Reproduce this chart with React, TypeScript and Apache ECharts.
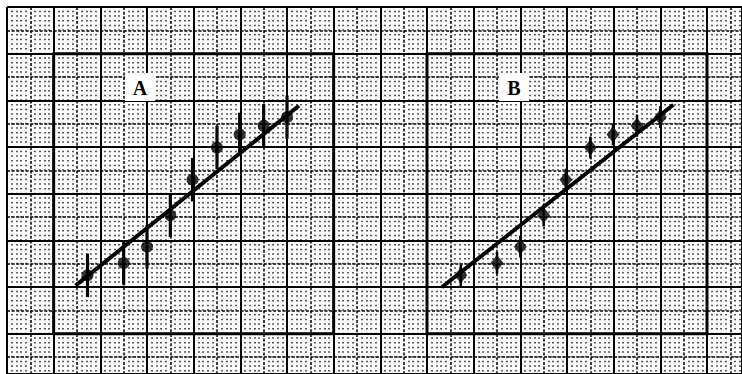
import React, { useEffect, useRef } from "react";
import * as echarts from "echarts";

// Measurements (x in grid cells from the panel's left edge, y in cells from its bottom edge)
const xValues = [1.45, 3, 4, 5, 5.95, 7, 7.97, 9, 10];
const yValues = [2.5, 3.03, 3.73, 5.07, 6.6, 7.98, 8.54, 8.91, 9.28];
const errorA = 0.93;
const errorB = 0.47;
const fitLineA = [
  [0.94, 2.06],
  [10.51, 9.77],
];
const fitLineB = [
  [0.63, 1.99],
  [10.56, 9.81],
];
const panelLabels = ["A", "B"];

const CELL = 280 / 12;
const ORIGIN = 7;
const W = 742;
const H = 374;

function buildOption() {
  const points = xValues.map((x, i) => [x, yValues[i]]);
  const panelLeft = [ORIGIN + 2 * CELL, ORIGIN + 18 * CELL];
  const panelTop = ORIGIN + 2 * CELL;
  const errs = [errorA, errorB];
  const fits = [fitLineA, fitLineB];

  const hidden = {
    axisLine: { show: false },
    axisTick: { show: false },
    axisLabel: { show: false },
  };

  const bgW = W - ORIGIN;
  const bgH = H - ORIGIN;

  const xAxis: any[] = [
    {
      gridIndex: 0,
      type: "value",
      min: 0,
      max: bgW / CELL,
      interval: 1,
      ...hidden,
      z: 0,
      splitLine: {
        show: true,
        lineStyle: { color: "#000", width: 1.5, type: [3, 1.67] },
      },
      minorTick: { show: false, splitNumber: 5 },
      minorSplitLine: {
        show: true,
        lineStyle: {
          color: "#222",
          width: 1.5,
          type: [1.5, CELL / 5 - 1.5],
          dashOffset: 0.75,
        },
      },
    },
    {
      gridIndex: 1,
      type: "value",
      min: 0,
      max: bgW / CELL,
      interval: 2,
      ...hidden,
      z: 1,
      splitLine: { show: true, lineStyle: { color: "#000", width: 2 } },
    },
    { gridIndex: 2, type: "value", min: 0, max: 12, show: false },
    { gridIndex: 3, type: "value", min: 0, max: 12, show: false },
  ];
  const yAxis: any[] = [
    {
      gridIndex: 0,
      type: "value",
      inverse: true,
      min: 0,
      max: bgH / CELL,
      interval: 1,
      ...hidden,
      z: 0,
      splitLine: {
        show: true,
        lineStyle: { color: "#000", width: 1.5, type: [3, 1.67] },
      },
    },
    {
      gridIndex: 1,
      type: "value",
      inverse: true,
      min: 0,
      max: bgH / CELL,
      interval: 2,
      ...hidden,
      z: 1,
      splitLine: { show: true, lineStyle: { color: "#000", width: 2 } },
    },
    { gridIndex: 2, type: "value", min: 0, max: 12, show: false },
    { gridIndex: 3, type: "value", min: 0, max: 12, show: false },
  ];

  const series: any[] = [];
  [0, 1].forEach((p) => {
    const ax = p + 2;
    series.push({
      type: "line",
      xAxisIndex: ax,
      yAxisIndex: ax,
      data: fits[p],
      symbol: "none",
      lineStyle: { color: "#000", width: 4 },
      z: 3,
      silent: true,
    });
    series.push({
      type: "custom",
      xAxisIndex: ax,
      yAxisIndex: ax,
      data: points,
      z: 4,
      renderItem: (_params: any, api: any) => {
        const x = api.value(0);
        const y = api.value(1);
        const a = api.coord([x, y - errs[p]]);
        const b = api.coord([x, y + errs[p]]);
        return {
          type: "line",
          shape: { x1: a[0], y1: a[1], x2: b[0], y2: b[1] },
          style: { stroke: "#000", lineWidth: p === 0 ? 3.2 : 2.5 },
        };
      },
    });
    series.push({
      type: "scatter",
      xAxisIndex: ax,
      yAxisIndex: ax,
      data: points,
      symbol: p === 0 ? "circle" : "diamond",
      symbolSize: p === 0 ? 12 : [13, 16],
      itemStyle: { color: "#000" },
      z: 5,
    });
  });

  const labelCenters = [
    [140, 87],
    [514, 87],
  ];
  const graphic: any[] = [];
  panelLabels.forEach((t, i) => {
    const [cx, cy] = labelCenters[i];
    graphic.push({
      type: "rect",
      shape: { x: cx - 15, y: cy - 14, width: 30, height: 28 },
      style: { fill: "#fff" },
      z: 100,
    });
    graphic.push({
      type: "text",
      x: cx,
      y: cy + 1,
      style: {
        text: t,
        font: 'bold 20px "Liberation Serif", serif',
        fill: "#000",
        align: "center",
        verticalAlign: "middle",
      },
      z: 101,
    });
  });

  return {
    animation: false,
    backgroundColor: "#fff",
    grid: [
      { left: ORIGIN, top: ORIGIN, width: bgW, height: bgH },
      { left: ORIGIN, top: ORIGIN, width: bgW, height: bgH },
      {
        left: panelLeft[0],
        top: panelTop,
        width: 12 * CELL,
        height: 12 * CELL,
        show: true,
        borderColor: "#000",
        borderWidth: 3,
        backgroundColor: "transparent",
        z: 2,
      },
      {
        left: panelLeft[1],
        top: panelTop,
        width: 12 * CELL,
        height: 12 * CELL,
        show: true,
        borderColor: "#000",
        borderWidth: 3,
        backgroundColor: "transparent",
        z: 2,
      },
    ],
    xAxis,
    yAxis,
    series,
    graphic,
  };
}

export default function App() {
  const ref = useRef<HTMLDivElement>(null);
  useEffect(() => {
    if (!ref.current) return;
    const chart = echarts.init(ref.current, undefined, { renderer: "svg" });
    chart.setOption(buildOption() as any);
    return () => chart.dispose();
  }, []);
  return (
    <div
      ref={ref}
      style={{
        position: "fixed",
        left: 0,
        top: 0,
        width: W,
        height: H,
        background: "#fff",
      }}
    />
  );
}
